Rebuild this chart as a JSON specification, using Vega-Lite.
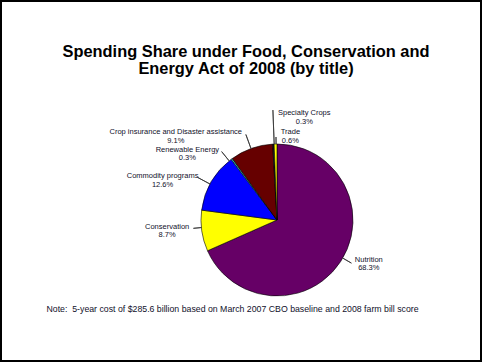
{
  "$schema": "https://vega.github.io/schema/vega-lite/v6.json",
  "width": 482,
  "height": 362,
  "autosize": "none",
  "padding": 0,
  "background": "white",
  "config": {
    "view": {"stroke": "black", "strokeWidth": 4},
    "font": "Liberation Sans"
  },
  "title": {
    "text": ["Spending Share under Food, Conservation and", "Energy Act of 2008 (by title)"],
    "font": "Liberation Sans",
    "fontSize": 16.4,
    "fontWeight": "bold",
    "color": "black",
    "anchor": "middle",
    "frame": "group",
    "dx": 5,
    "offset": -77,
    "lineHeight": 17
  },
  "layer": [
    {
      "data": {
        "values": [
          {"title": "Nutrition", "share": 68.3, "order": 1, "label": "Nutrition\n68.3%"},
          {"title": "Conservation", "share": 8.7, "order": 2, "label": "Conservation\n8.7%"},
          {"title": "Commodity programs", "share": 12.6, "order": 3, "label": "Commodity programs\n12.6%"},
          {"title": "Renewable Energy", "share": 0.3, "order": 4, "label": "Renewable Energy\n0.3%"},
          {"title": "Crop insurance and Disaster assistance", "share": 9.1, "order": 5, "label": "Crop insurance and Disaster assistance\n9.1%"},
          {"title": "Specialty Crops", "share": 0.3, "order": 6, "label": "Specialty Crops\n0.3%"},
          {"title": "Trade", "share": 0.6, "order": 7, "label": "Trade\n0.6%"}
        ]
      },
      "encoding": {
        "theta": {"field": "share", "type": "quantitative", "stack": true},
        "order": {"field": "order", "type": "quantitative"},
        "x": {"value": 277},
        "y": {"value": 220}
      },
      "layer": [
        {
          "mark": {"type": "arc", "outerRadius": 76, "stroke": "#000000", "strokeWidth": 0.6},
          "encoding": {
            "color": {
              "field": "title",
              "type": "nominal",
              "scale": {
                "domain": ["Nutrition", "Conservation", "Commodity programs", "Renewable Energy", "Crop insurance and Disaster assistance", "Specialty Crops", "Trade"],
                "range": ["#660066", "#FFFF00", "#0000FF", "#33CCCC", "#660000", "#1a1a1a", "#FFFF00"]
              },
              "legend": null
            }
          }
        },
        {
          "transform": [{"stack": "share", "groupby": [], "sort": [{"field": "order"}], "as": ["s0", "s1"]}, {"filter": "datum.title === 'Nutrition'"}],
          "mark": {"type": "arc", "radius": 86, "radius2": 76, "thetaOffset": 2.096, "theta2Offset": -2.1997, "filled": false, "stroke": "#333333", "strokeWidth": 0.8},
          "encoding": {"theta": {"field": "s0", "type": "quantitative"}, "theta2": {"field": "s1"}}
        },
        {
          "transform": [{"stack": "share", "groupby": [], "sort": [{"field": "order"}], "as": ["s0", "s1"]}, {"filter": "datum.title === 'Conservation'"}],
          "mark": {"type": "arc", "radius": 84, "radius2": 76, "thetaOffset": 0.3173, "theta2Offset": -0.2299, "filled": false, "stroke": "#333333", "strokeWidth": 0.8},
          "encoding": {"theta": {"field": "s0", "type": "quantitative"}, "theta2": {"field": "s1"}}
        },
        {
          "transform": [{"stack": "share", "groupby": [], "sort": [{"field": "order"}], "as": ["s0", "s1"]}, {"filter": "datum.title === 'Commodity programs'"}],
          "mark": {"type": "arc", "radius": 90, "radius2": 76, "thetaOffset": 0.3621, "theta2Offset": -0.4304, "filled": false, "stroke": "#333333", "strokeWidth": 0.8},
          "encoding": {"theta": {"field": "s0", "type": "quantitative"}, "theta2": {"field": "s1"}}
        },
        {
          "transform": [{"stack": "share", "groupby": [], "sort": [{"field": "order"}], "as": ["s0", "s1"]}, {"filter": "datum.title === 'Renewable Energy'"}],
          "mark": {"type": "arc", "radius": 88, "radius2": 76, "thetaOffset": -0.0324, "theta2Offset": -0.0512, "filled": false, "stroke": "#333333", "strokeWidth": 0.8},
          "encoding": {"theta": {"field": "s0", "type": "quantitative"}, "theta2": {"field": "s1"}}
        },
        {
          "transform": [{"stack": "share", "groupby": [], "sort": [{"field": "order"}], "as": ["s0", "s1"]}, {"filter": "datum.title === 'Crop insurance and Disaster assistance'"}],
          "mark": {"type": "arc", "radius": 91, "radius2": 76, "thetaOffset": 0.2798, "theta2Offset": -0.2926, "filled": false, "stroke": "#333333", "strokeWidth": 0.8},
          "encoding": {"theta": {"field": "s0", "type": "quantitative"}, "theta2": {"field": "s1"}}
        },
        {
          "transform": [{"stack": "share", "groupby": [], "sort": [{"field": "order"}], "as": ["s0", "s1"]}, {"filter": "datum.title === 'Specialty Crops'"}],
          "mark": {"type": "arc", "radius": 110, "radius2": 76, "thetaOffset": 0.0194, "theta2Offset": 0.0006, "filled": false, "stroke": "#333333", "strokeWidth": 0.8},
          "encoding": {"theta": {"field": "s0", "type": "quantitative"}, "theta2": {"field": "s1"}}
        },
        {
          "transform": [{"stack": "share", "groupby": [], "sort": [{"field": "order"}], "as": ["s0", "s1"]}, {"filter": "datum.title === 'Trade'"}],
          "mark": {"type": "arc", "radius": 83, "radius2": 76, "thetaOffset": 0.0256, "theta2Offset": -0.0122, "filled": false, "stroke": "#333333", "strokeWidth": 0.8},
          "encoding": {"theta": {"field": "s0", "type": "quantitative"}, "theta2": {"field": "s1"}}
        },
        {
          "mark": {"type": "text", "radius": 100, "dx": 8, "dy": -15, "lineBreak": "\n", "fontSize": 7.5, "lineHeight": 8.5, "align": "center", "baseline": "middle", "color": "#10102a"},
          "encoding": {"text": {"condition": {"test": "datum.title === 'Nutrition'", "field": "label"}, "value": ""}}
        },
        {
          "mark": {"type": "text", "radius": 110, "dx": -1, "dy": -9, "lineBreak": "\n", "fontSize": 7.5, "lineHeight": 8.5, "align": "center", "baseline": "middle", "color": "#10102a"},
          "encoding": {"text": {"condition": {"test": "datum.title === 'Conservation'", "field": "label"}, "value": ""}}
        },
        {
          "mark": {"type": "text", "radius": 115, "dx": -15, "dy": 14, "lineBreak": "\n", "fontSize": 7.5, "lineHeight": 8.5, "align": "center", "baseline": "middle", "color": "#10102a"},
          "encoding": {"text": {"condition": {"test": "datum.title === 'Commodity programs'", "field": "label"}, "value": ""}}
        },
        {
          "mark": {"type": "text", "radius": 90, "dx": -36, "dy": 2, "lineBreak": "\n", "fontSize": 7.5, "lineHeight": 8.5, "align": "center", "baseline": "middle", "color": "#10102a"},
          "encoding": {"text": {"condition": {"test": "datum.title === 'Renewable Energy'", "field": "label"}, "value": ""}}
        },
        {
          "mark": {"type": "text", "radius": 90, "dx": -71, "dy": -3, "lineBreak": "\n", "fontSize": 7.5, "lineHeight": 8.5, "align": "center", "baseline": "middle", "color": "#10102a"},
          "encoding": {"text": {"condition": {"test": "datum.title === 'Crop insurance and Disaster assistance'", "field": "label"}, "value": ""}}
        },
        {
          "mark": {"type": "text", "radius": 100, "dx": 32, "dy": -7, "lineBreak": "\n", "fontSize": 7.5, "lineHeight": 8.5, "align": "center", "baseline": "middle", "color": "#10102a"},
          "encoding": {"text": {"condition": {"test": "datum.title === 'Specialty Crops'", "field": "label"}, "value": ""}}
        },
        {
          "mark": {"type": "text", "radius": 85, "dx": 15, "dy": -3, "lineBreak": "\n", "fontSize": 7.5, "lineHeight": 8.5, "align": "center", "baseline": "middle", "color": "#10102a"},
          "encoding": {"text": {"condition": {"test": "datum.title === 'Trade'", "field": "label"}, "value": ""}}
        }
      ]
    },
    {
      "data": {"values": [{"note": "Note:\u00a0 5-year cost of $285.6 billion based on March 2007 CBO baseline and 2008 farm bill score"}]},
      "mark": {"type": "text", "fontSize": 8.75, "align": "center", "baseline": "alphabetic", "color": "#10102a"},
      "encoding": {
        "text": {"field": "note", "type": "nominal"},
        "x": {"value": 232.5},
        "y": {"value": 312}
      }
    }
  ]
}
